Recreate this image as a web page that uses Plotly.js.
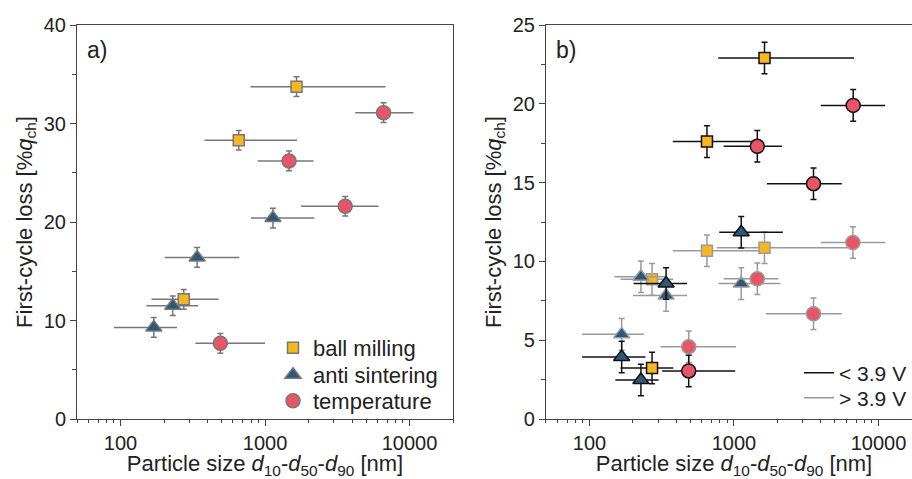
<!DOCTYPE html>
<html>
<head>
<meta charset="utf-8">
<script src="https://cdn.plot.ly/plotly-3.0.1.min.js"></script>
<style>
html,body{margin:0;padding:0;overflow:hidden;background:#fff;}
#chart{width:930px;height:479px;}
</style>
</head>
<body>
<div id="chart"></div>
<script>
// ---------- Panel a data ----------
const aBM_d50 = [274, 658, 1652];
const aBM_d10 = [164, 381, 794];
const aBM_d90 = [478, 1664, 6820];
const aBM_loss = [12.15, 28.3, 33.74];
const aBM_err = [1.0, 1.0, 1.0];

const aAS_d50 = [170, 230, 339, 1135];
const aAS_d10 = [90, 151, 202, 800];
const aAS_d90 = [246, 344, 664, 2193];
const aAS_loss = [9.3, 11.5, 16.4, 20.4];
const aAS_err = [1.0, 1.0, 1.0, 1.0];

const aT_d50 = [491, 1466, 3590, 6610];
const aT_d10 = [330, 889, 1774, 4210];
const aT_d90 = [1000, 2168, 6100, 10640];
const aT_loss = [7.68, 26.2, 21.6, 31.1];
const aT_err = [1.0, 1.0, 1.0, 1.0];

// ---------- Panel b data: < 3.9 V (black) ----------
const bLoBM_d50 = [271, 650, 1626];
const bLoBM_d10 = [164, 377, 778];
const bLoBM_d90 = [380, 1500, 6780];
const bLoBM_loss = [3.24, 17.6, 22.9];

const bLoAS_d50 = [167, 227, 339, 1122];
const bLoAS_d10 = [89, 151, 202, 791];
const bLoAS_d90 = [244, 301, 473, 2180];
const bLoAS_loss = [3.93, 2.47, 8.6, 11.85];

const bLoT_d50 = [486, 1450, 3550, 6680];
const bLoT_d10 = [318, 848, 1690, 3990];
const bLoT_d90 = [1020, 2150, 5570, 11120];
const bLoT_loss = [3.05, 17.3, 14.93, 19.9];

// ---------- Panel b data: > 3.9 V (grey) ----------
const bHiBM_d50 = [271, 650, 1626];
const bHiBM_d10 = [164, 377, 762];
const bHiBM_d90 = [380, 1600, 6200];
const bHiBM_loss = [8.86, 10.68, 10.87];

const bHiAS_d50 = [167, 227, 339, 1122];
const bHiAS_d10 = [89, 149, 200, 782];
const bHiAS_d90 = [238, 344, 473, 2100];
const bHiAS_loss = [5.37, 9.03, 7.83, 8.59];

const bHiT_d50 = [486, 1450, 3550, 6650];
const bHiT_d10 = [310, 848, 1670, 3990];
const bHiT_d90 = [1033, 2030, 5570, 11120];
const bHiT_loss = [4.59, 8.9, 6.68, 11.2];

const bErr = 1.0;

const legendA = ['ball milling', 'anti sintering', 'temperature'];
const legendB = ['< 3.9 V', '> 3.9 V'];
const xTickVals = [100, 1000, 10000];
const xTickText = ['100', '1000', '10000'];

// ---------- styles ----------
const COL = {bm: '#F7B722', as: '#2E5878', t: '#E95566'};
const SYM = {bm: 'square', as: 'triangle-up', t: 'circle'};
const SIZE = {bm: 11, as: 14, t: 14};

function trace(d50, d10, d90, loss, err, kind, edge, xa, ya) {
  return {
    type: 'scatter', mode: 'markers', x: d50, y: loss, xaxis: xa, yaxis: ya,
    showlegend: false, hoverinfo: 'skip',
    marker: {symbol: SYM[kind], size: SIZE[kind], color: COL[kind], line: {color: edge, width: 1.5}},
    error_x: {type: 'data', symmetric: false,
      array: d50.map((v, i) => d90[i] - v), arrayminus: d50.map((v, i) => v - d10[i]),
      color: edge, thickness: 1.5, width: 0},
    error_y: {type: 'data', array: Array.isArray(err) ? err : loss.map(() => err),
      color: edge, thickness: 1.5, width: 3}
  };
}

const GA = '#777777', GB = '#9a9a9a', BK = '#111111';
const data = [
  trace(aBM_d50, aBM_d10, aBM_d90, aBM_loss, aBM_err, 'bm', GA, 'x', 'y'),
  trace(aAS_d50, aAS_d10, aAS_d90, aAS_loss, aAS_err, 'as', GA, 'x', 'y'),
  trace(aT_d50, aT_d10, aT_d90, aT_loss, aT_err, 't', GA, 'x', 'y'),
  trace(bHiBM_d50, bHiBM_d10, bHiBM_d90, bHiBM_loss, bErr, 'bm', GB, 'x2', 'y2'),
  trace(bHiAS_d50, bHiAS_d10, bHiAS_d90, bHiAS_loss, bErr, 'as', GB, 'x2', 'y2'),
  trace(bHiT_d50, bHiT_d10, bHiT_d90, bHiT_loss, bErr, 't', GB, 'x2', 'y2'),
  trace(bLoBM_d50, bLoBM_d10, bLoBM_d90, bLoBM_loss, bErr, 'bm', BK, 'x2', 'y2'),
  trace(bLoAS_d50, bLoAS_d10, bLoAS_d90, bLoAS_loss, bErr, 'as', BK, 'x2', 'y2'),
  trace(bLoT_d50, bLoT_d10, bLoT_d90, bLoT_loss, bErr, 't', BK, 'x2', 'y2')
];
// legend entries (one legend per entry so the row spacing can match)
const legIdsA = ['legend', 'legend2', 'legend3'];
const legIdsB = ['legend4', 'legend5'];
['bm', 'as', 't'].forEach((k, i) => data.push({
  type: 'scatter', mode: 'markers', x: [null], y: [null], xaxis: 'x', yaxis: 'y',
  name: legendA[i], legend: legIdsA[i],
  marker: {symbol: SYM[k], size: SIZE[k], color: COL[k], line: {color: GA, width: 1.5}}
}));
[BK, GB].forEach((c, i) => data.push({
  type: 'scatter', mode: 'lines', x: [null], y: [null], xaxis: 'x2', yaxis: 'y2',
  name: legendB[i], legend: legIdsB[i], line: {color: c, width: 1.5}
}));

const minorVals = [];
[10, 100, 1000, 10000].forEach(dec => { for (let m = 2; m <= 9; m++) minorVals.push(m * dec); });

const FONT = 'Liberation Sans, Arial, sans-serif';
const AXC = '#444444';
function xax(domain, anchor) {
  return {
    type: 'log', range: [Math.log10(50), Math.log10(20000)], domain: domain, anchor: anchor,
    tickmode: 'array', tickvals: xTickVals, ticktext: xTickText,
    ticks: 'outside', ticklen: 6, tickcolor: AXC, tickwidth: 1,
    minor: {tickmode: 'array', tickvals: minorVals, ticks: 'outside', ticklen: 3, tickcolor: AXC, tickwidth: 1},
    showline: true, linecolor: AXC, linewidth: 1, mirror: true, showgrid: false, zeroline: false,
    tickfont: {size: 20, color: '#222'},
    title: {text: 'Particle size <i>d</i><sub>10</sub>-<i>d</i><sub>50</sub>-<i>d</i><sub>90</sub> [nm]',
      font: {size: 22, color: '#222'}, standoff: 7}
  };
}
function yax(range, dtick, anchor) {
  return {
    range: range, anchor: anchor, dtick: dtick, tick0: 0,
    ticks: 'outside', ticklen: 6, tickcolor: AXC, tickwidth: 1,
    minor: {dtick: dtick / 2, ticks: 'outside', ticklen: 4, tickcolor: AXC, tickwidth: 1},
    showline: true, linecolor: AXC, linewidth: 1, mirror: true, showgrid: false, zeroline: false,
    tickfont: {size: 20, color: '#222'},
    title: {text: 'First-cycle loss [%<i>q</i><sub>ch</sub>]', font: {size: 22, color: '#222'}, standoff: 5}
  };
}

const layout = {
  width: 930, height: 479,
  margin: {l: 77, r: 8, t: 25, b: 60},
  paper_bgcolor: '#ffffff', plot_bgcolor: '#ffffff',
  font: {family: FONT, color: '#222'},
  xaxis: xax([0, 0.445], 'y'),
  yaxis: yax([0, 40], 10, 'x'),
  xaxis2: xax([0.555, 1], 'y2'),
  yaxis2: yax([0, 25], 5, 'x2'),
  annotations: [
    {text: 'a)', xref: 'x domain', yref: 'y domain', x: 0.022, y: 0.975, xanchor: 'left', yanchor: 'top',
      showarrow: false, font: {size: 23, color: '#222'}},
    {text: 'b)', xref: 'x2 domain', yref: 'y2 domain', x: 0.022, y: 0.975, xanchor: 'left', yanchor: 'top',
      showarrow: false, font: {size: 23, color: '#222'}}
  ]
};
// legend row centres (pixel rows of the reference) -> paper coords (plot area 25..419)
const rowsA = [348, 375, 401];
const rowsB = [373, 398];
legIdsA.forEach((id, i) => {
  layout[id] = {x: (273 - 77) / 845, y: (419 - rowsA[i]) / 394, xanchor: 'left', yanchor: 'middle',
    font: {size: 22, color: '#222'}, bgcolor: 'rgba(0,0,0,0)', itemwidth: 30};
});
legIdsB.forEach((id, i) => {
  layout[id] = {x: (799 - 77) / 845, y: (419 - rowsB[i]) / 394, xanchor: 'left', yanchor: 'middle',
    font: {size: 21, color: '#222'}, bgcolor: 'rgba(0,0,0,0)', itemwidth: 30};
});

Plotly.newPlot('chart', data, layout, {displayModeBar: false, staticPlot: true});
</script>
</body>
</html>
